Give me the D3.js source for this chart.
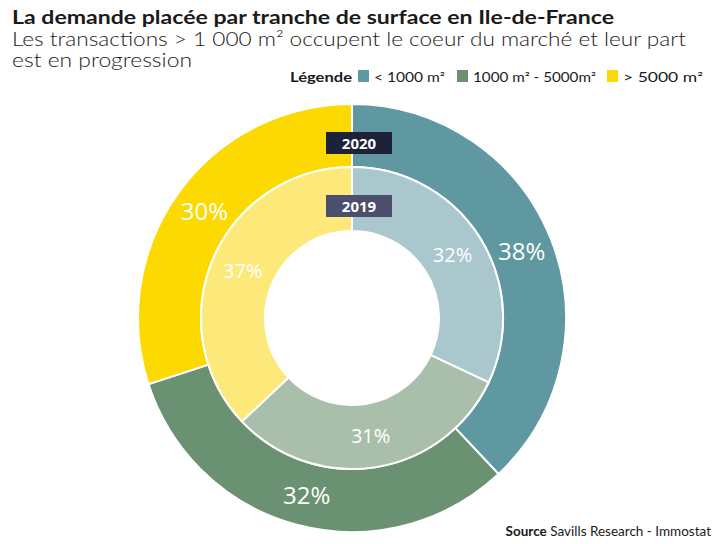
<!DOCTYPE html>
<html><head><meta charset="utf-8">
<script src="https://cdn.jsdelivr.net/npm/d3@7"></script>
<style>body{margin:0;background:#fff}svg{display:block}</style>
</head><body>
<script>
const categories = ["< 1000 m²", "1000 m² - 5000m²", "> 5000 m²"];
const values2020 = [38, 32, 30];
const values2019 = [32, 31, 37];
const years = ["2020", "2019"];
const outerColors = ["#5f98a1", "#6a9172", "#fcd900"];
const innerColors = ["#a9c7cc", "#aabfab", "#fde87a"];

const W = 721, H = 544;
const svg = d3.select("body").append("svg").attr("width", W).attr("height", H);
const font = "Lato, 'Open Sans', sans-serif";
const numFont = "'Open Sans', Lato, sans-serif";

// Titles
svg.append("text").attr("x", 12).attr("y", 24).attr("font-family", font).attr("font-weight", 700)
  .attr("font-size", 19).attr("fill", "#1a1a1a").attr("textLength", 602).attr("lengthAdjust", "spacingAndGlyphs")
  .text("La demande placée par tranche de surface en Ile-de-France");
svg.append("text").attr("x", 12).attr("y", 46).attr("font-family", font).attr("font-weight", 300)
  .attr("font-size", 19).attr("fill", "#1a1a1a").attr("textLength", 674).attr("lengthAdjust", "spacingAndGlyphs")
  .text("Les transactions > 1 000 m² occupent le coeur du marché et leur part");
svg.append("text").attr("x", 12).attr("y", 67).attr("font-family", font).attr("font-weight", 300)
  .attr("font-size", 19).attr("fill", "#1a1a1a").attr("textLength", 180).attr("lengthAdjust", "spacingAndGlyphs")
  .text("est en progression");

// Legend
const lg = svg.append("g").attr("font-family", font).attr("font-size", 13).attr("fill", "#1a1a1a");
lg.append("text").attr("x", 290).attr("y", 82).attr("font-weight", 700).attr("textLength", 62)
  .attr("lengthAdjust", "spacingAndGlyphs").text("Légende");
const legX = [358, 457, 607], legW = [71, 123, 80];
categories.forEach((c, i) => {
  lg.append("rect").attr("x", legX[i]).attr("y", 70).attr("width", 11).attr("height", 12).attr("fill", outerColors[i]);
  lg.append("text").attr("x", legX[i] + 16).attr("y", 82).attr("textLength", legW[i])
    .attr("lengthAdjust", "spacingAndGlyphs").text(c);
});

// Donuts
const cx = 352, cy = 318;
const g = svg.append("g").attr("transform", `translate(${cx},${cy})`);
const pie = d3.pie().sort(null).value(d => d);
const outerArc = d3.arc().innerRadius(151).outerRadius(214);
const innerArc = d3.arc().innerRadius(87).outerRadius(151);

const oData = pie(values2020), iData = pie(values2019);
g.selectAll("path.o").data(oData).join("path").attr("class", "o")
  .attr("d", outerArc).attr("fill", (d, i) => outerColors[i]).attr("stroke", "#fff").attr("stroke-width", 2);
g.selectAll("path.i").data(iData).join("path").attr("class", "i")
  .attr("d", innerArc).attr("fill", (d, i) => innerColors[i]).attr("stroke", "#fff").attr("stroke-width", 2);

g.selectAll("text.o").data(oData).join("text").attr("class", "o")
  .attr("transform", d => `translate(${outerArc.centroid(d)})`)
  .attr("text-anchor", "middle").attr("dominant-baseline", "central")
  .attr("font-family", numFont).attr("font-size", 24).attr("fill", "#fff")
  .text(d => d.data + "%");
g.selectAll("text.i").data(iData).join("text").attr("class", "i")
  .attr("transform", d => `translate(${innerArc.centroid(d)})`)
  .attr("text-anchor", "middle").attr("dominant-baseline", "central")
  .attr("font-family", numFont).attr("font-size", 20).attr("fill", "#fff")
  .text(d => d.data + "%");

// Year tags
const tags = [{y: 132, fill: "#1d2238"}, {y: 195, fill: "#4b4f6d"}];
tags.forEach((t, i) => {
  svg.append("rect").attr("x", 326).attr("y", t.y).attr("width", 66).attr("height", 22).attr("fill", t.fill);
  svg.append("text").attr("x", 359).attr("y", t.y + 11).attr("text-anchor", "middle")
    .attr("dominant-baseline", "central").attr("font-family", numFont).attr("font-weight", 700)
    .attr("font-size", 15).attr("fill", "#fff").text(years[i]);
});

// Source
const src = svg.append("text").attr("x", 711).attr("y", 536).attr("text-anchor", "end")
  .attr("font-family", font).attr("font-size", 13.5).attr("fill", "#1a1a1a");
src.append("tspan").attr("font-weight", 700).text("Source");
src.append("tspan").text(" Savills Research - Immostat");
</script>
</body></html>
